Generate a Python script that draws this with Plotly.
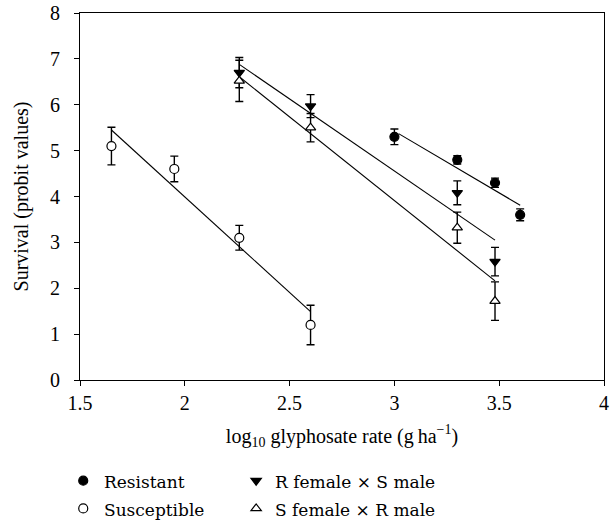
import plotly.graph_objects as go

# ---- data ----
x_res = [3.00, 3.30, 3.48, 3.60]
y_res = [5.30, 4.80, 4.30, 3.60]
e_res = [0.17, 0.09, 0.10, 0.13]
fit_res_x = [3.02, 3.60]
fit_res_y = [5.37, 3.81]

x_sus = [1.65, 1.95, 2.26, 2.60]
y_sus = [5.10, 4.60, 3.10, 1.20]
e_sus = [0.41, 0.28, 0.27, 0.43]
fit_sus_x = [1.65, 2.60]
fit_sus_y = [5.45, 1.49]

x_rs = [2.26, 2.60, 3.30, 3.48]
y_rs = [6.70, 5.97, 4.08, 2.58]
e_rs = [0.33, 0.25, 0.26, 0.31]
fit_rs_x = [2.26, 3.48]
fit_rs_y = [6.88, 3.05]

x_sr = [2.26, 2.60, 3.30, 3.48]
y_sr = [6.52, 5.50, 3.32, 1.72]
e_sr = [0.45, 0.31, 0.34, 0.42]
fit_sr_x = [2.26, 3.48]
fit_sr_y = [6.61, 2.16]

names = ["Resistant", "Susceptible", "R female \u00d7 S male", "S female \u00d7 R male"]

FONT = "Liberation Serif"
LEG_FONT = "DejaVu Serif"
fig = go.Figure()

def fit(xs, ys):
    fig.add_trace(go.Scatter(x=xs, y=ys, mode="lines", showlegend=False,
                             line=dict(color="black", width=1.1), hoverinfo="skip"))

for xs, ys in [(fit_sus_x, fit_sus_y), (fit_res_x, fit_res_y), (fit_rs_x, fit_rs_y), (fit_sr_x, fit_sr_y)]:
    fit(xs, ys)

def pts(xs, ys, es, name, symbol, fill, legend):
    # legend draws the symbol; the label text is written as an annotation below
    fig.add_trace(go.Scatter(
        x=xs, y=ys, mode="markers", name="\u00a0", legend=legend,
        hovertext=name, hoverinfo="x+y+text",
        error_y=dict(type="data", array=es, visible=True, color="black", thickness=1.4, width=4),
        marker=dict(symbol=symbol, size=9, color=fill, line=dict(color="black", width=1.2)),
    ))

pts(x_res, y_res, e_res, names[0], "circle", "black", "legend")
pts(x_sus, y_sus, e_sus, names[1], "circle", "white", "legend")
pts(x_rs, y_rs, e_rs, names[2], "triangle-down", "black", "legend2")
pts(x_sr, y_sr, e_sr, names[3], "triangle-up", "white", "legend2")

# legend labels
label_x = [0.042, 0.042, 0.368, 0.368]
label_y = [-0.278, -0.354, -0.278, -0.354]
for nm, lx, ly in zip(names, label_x, label_y):
    fig.add_annotation(text=nm, x=lx, y=ly, xref="paper", yref="paper",
                       xanchor="left", yanchor="middle", showarrow=False,
                       font=dict(family=LEG_FONT, size=17, color="black"))

axis_common = dict(showline=True, linecolor="black", linewidth=1.2, mirror=True,
                   ticks="outside", ticklen=5, tickwidth=1.2, tickcolor="black",
                   showgrid=False, zeroline=False,
                   tickfont=dict(family=FONT, size=20, color="black"))

fig.update_xaxes(range=[1.5, 4], tickvals=[1.5, 2, 2.5, 3, 3.5, 4],
                 ticktext=["1.5", "2", "2.5", "3", "3.5", "4"],
                 title=dict(text="log<sub>10</sub> glyphosate rate (g\u2009ha<sup>\u22121</sup>)",
                            font=dict(family=FONT, size=20, color="black")),
                 **axis_common)
fig.update_yaxes(range=[0, 8], dtick=1, ticksuffix="\u2002",
                 title=dict(text="Survival (probit values)",
                            font=dict(family=FONT, size=20, color="black")),
                 **axis_common)

fig.update_layout(
    width=615, height=520,
    font=dict(family=FONT, size=20, color="black"),
    margin=dict(l=80, r=11, t=13, b=140, autoexpand=False),
    plot_bgcolor="white", paper_bgcolor="white",
    legend=dict(x=-0.032, y=-0.223, xanchor="left", yanchor="top",
                font=dict(family=FONT, size=19, color="black")),
    legend2=dict(x=0.298, y=-0.223, xanchor="left", yanchor="top",
                 font=dict(family=FONT, size=19, color="black")),
)

fig.write_html("out.html", config={"displayModeBar": False},
               post_script="document.body.style.margin='0px';")
